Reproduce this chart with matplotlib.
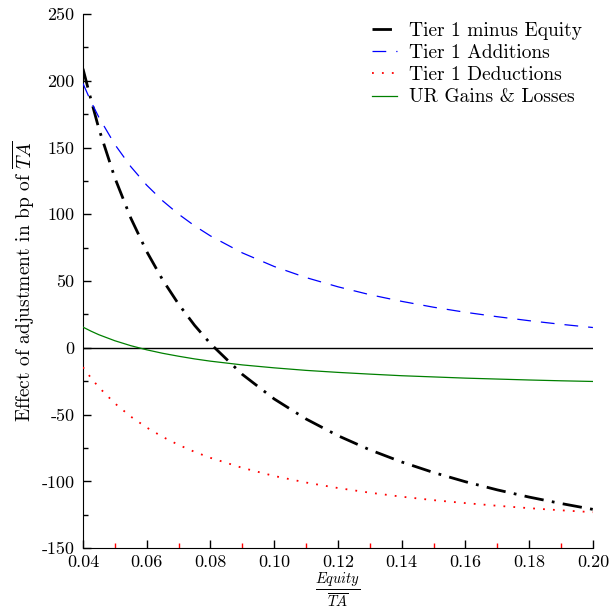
import matplotlib
matplotlib.use("Agg")
import matplotlib.pyplot as plt
from matplotlib.ticker import MultipleLocator

plt.rcParams['font.family'] = 'serif'
plt.rcParams['font.serif'] = ['cmr10']
plt.rcParams['mathtext.fontset'] = 'cm'
plt.rcParams['axes.unicode_minus'] = False
plt.rcParams['axes.formatter.use_mathtext'] = True

equity_ratio = [0.04, 0.0425, 0.045, 0.05, 0.055, 0.06, 0.065, 0.07, 0.075, 0.08,
                0.09, 0.10, 0.11, 0.12, 0.13, 0.14, 0.15, 0.16, 0.17, 0.18, 0.19, 0.20]
tier1_minus_equity = [209, 186, 164, 127.3, 97.2, 72.1, 50.9, 32.7, 16.9, 3.1,
                      -19.9, -38.3, -53.3, -65.8, -76.4, -85.5, -93.4, -100.3, -106.4, -111.8, -116.6, -121.0]
tier1_additions = [198, 184.5, 172.6, 152.3, 135.7, 121.8, 110.1, 100.1, 91.4, 83.8,
                   71.1, 60.9, 52.6, 45.7, 39.8, 34.8, 30.4, 26.6, 23.3, 20.3, 17.6, 15.2]
tier1_deductions = [-14.5, -22.5, -29.6, -41.6, -51.5, -59.7, -66.7, -72.7, -77.9, -82.4,
                    -89.9, -96.0, -100.9, -105.0, -108.5, -111.5, -114.1, -116.3, -118.3, -120.1, -121.7, -123.1]
ur_gains_losses = [15.5, 12.5, 9.8, 5.3, 1.6, -1.5, -4.1, -6.3, -8.3, -10.0,
                   -12.8, -15.0, -16.9, -18.4, -19.7, -20.9, -21.8, -22.7, -23.4, -24.1, -24.7, -25.2]

fig = plt.figure(figsize=(6.1, 6.09), dpi=100)
ax = fig.add_axes([0.136, 0.100, 0.836, 0.877])

ax.axhline(0, color='black', lw=1.0, zorder=1)
ax.plot(equity_ratio, tier1_minus_equity, color='black', lw=2.0, ls=(0, (7, 3, 1, 3)),
        label='Tier 1 minus Equity', zorder=3)
ax.plot(equity_ratio, tier1_additions, color='blue', lw=0.9, ls=(0, (11, 8)),
        label='Tier 1 Additions', zorder=3)
ax.plot(equity_ratio, tier1_deductions, color='red', lw=1.3, ls=(0, (1, 4.5)),
        label='Tier 1 Deductions', zorder=3)
ax.plot(equity_ratio, ur_gains_losses, color='green', lw=0.9,
        label='UR Gains & Losses', zorder=3)

ax.set_xlim(0.04, 0.20)
ax.set_ylim(-150, 250)
ax.set_xticks([0.04, 0.06, 0.08, 0.10, 0.12, 0.14, 0.16, 0.18, 0.20])
ax.set_xticklabels(['0.04', '0.06', '0.08', '0.10', '0.12', '0.14', '0.16', '0.18', '0.20'])
ax.set_yticks([-150, -100, -50, 0, 50, 100, 150, 200, 250])
ax.set_yticklabels(['-150', '-100', '-50', '0', '50', '100', '150', '200', '250'])
ax.set_xticks([0.05, 0.07, 0.09, 0.11, 0.13, 0.15, 0.17, 0.19], minor=True)
ax.yaxis.set_minor_locator(MultipleLocator(25))

ax.spines['top'].set_visible(False)
ax.spines['right'].set_visible(False)
ax.tick_params(which='major', direction='in', length=6, width=1, labelsize=13)
ax.tick_params(which='minor', direction='in', length=3.5, width=1)
ax.tick_params(axis='x', which='minor', colors='red')
ax.tick_params(axis='x', pad=5)
ax.tick_params(axis='y', pad=6)

ax.set_xlabel(r'$\frac{Equity}{\overline{TA}}$', fontsize=15, labelpad=0)
ax.set_ylabel(r'Effect of adjustment in bp of $\overline{TA}$', fontsize=14, labelpad=3)

leg = ax.legend(loc='upper right', bbox_to_anchor=(0.994, 1.0), frameon=False,
                fontsize=14, handlelength=1.3, handletextpad=0.6,
                labelspacing=0.22, borderaxespad=0.0)

fig.savefig('out.png', dpi=100)
